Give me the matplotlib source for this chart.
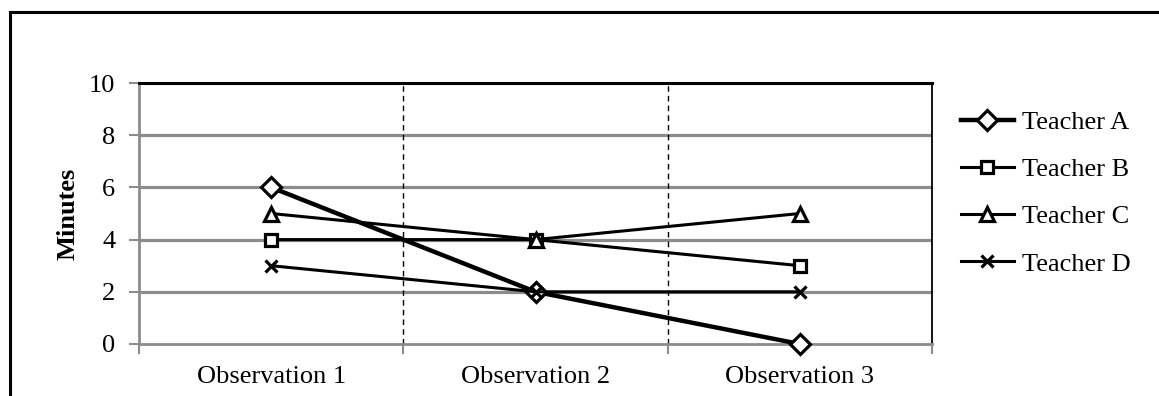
import matplotlib.pyplot as plt
from matplotlib.lines import Line2D

plt.rcParams['font.family'] = ['Liberation Serif', 'DejaVu Serif']

# minutes per teacher at each observation
observations = ['Observation 1', 'Observation 2', 'Observation 3']
teacher_a = [6, 2, 0]
teacher_b = [4, 4, 3]
teacher_c = [5, 4, 5]
teacher_d = [3, 2, 2]
y_ticks = [0, 2, 4, 6, 8, 10]

fig = plt.figure(figsize=(11.59, 3.96), dpi=100)
ax = fig.add_axes([139/1159, 1 - 344/396, 793/1159, 261/396])

x = range(len(observations))
fs = 19
grey = '#8c8c8c'

# horizontal gridlines
for v in y_ticks[1:-1]:
    ax.axhline(v, color=grey, lw=2.3, zorder=1)
# dashed separators between observations
for b in [0.5, 1.5]:
    ax.axvline(b, color='black', lw=1.0, ls=(0, (4, 3)), zorder=1.5)

common = dict(color='black', markerfacecolor='white', markeredgecolor='black',
              markeredgewidth=2.3, zorder=3, clip_on=False)
ax.plot(x, teacher_a, marker='D', ms=10.5, lw=3.2, label='Teacher A', **common)
ax.plot(x, teacher_b, marker='s', ms=9, lw=2.2, label='Teacher B', **common)
ax.plot(x, teacher_c, marker='^', ms=9.5, lw=2.2, label='Teacher C', **common)
ax.plot(x, teacher_d, marker='x', ms=9, lw=2.2, label='Teacher D', **common)

ax.set_xlim(-0.5, 2.5)
ax.set_ylim(0, 10)
ax.set_yticks(y_ticks)
ax.set_yticklabels([str(v) for v in y_ticks], fontsize=fs)
ax.set_xticks(list(x))
ax.set_xticklabels(observations, fontsize=fs)
ax.set_xticks([-0.5, 0.5, 1.5, 2.5], minor=True)
ax.tick_params(axis='x', which='major', length=0, pad=16)
ax.tick_params(axis='x', which='minor', length=7, width=1.5, color=grey)
ax.tick_params(axis='y', length=7, width=1.5, color=grey, pad=10)

for side in ['left', 'bottom']:
    ax.spines[side].set_color(grey)
    ax.spines[side].set_linewidth(2)
ax.spines['top'].set_color('black')
ax.spines['top'].set_linewidth(2.2)
ax.spines['right'].set_color('black')
ax.spines['right'].set_linewidth(1.3)

fig.text(68/1159, 1 - 214/396, 'Minutes', rotation=90, ha='center', va='center',
         fontsize=fs, fontweight='bold')

ax.legend(loc='center left', bbox_to_anchor=(961/1159, 1 - 193/396),
          bbox_transform=fig.transFigure, frameon=False, fontsize=fs,
          handlelength=2.0, handletextpad=0.3, labelspacing=0.9, borderpad=0,
          borderaxespad=0)

# outer chart frame
fig.add_artist(Line2D([10/1159, 10/1159], [-0.1, 1 - 12/396], color='black', lw=2.2,
                      transform=fig.transFigure))
fig.add_artist(Line2D([10/1159, 1.1], [1 - 12/396, 1 - 12/396], color='black', lw=2.2,
                      transform=fig.transFigure))

fig.savefig('out.png', dpi=100)
